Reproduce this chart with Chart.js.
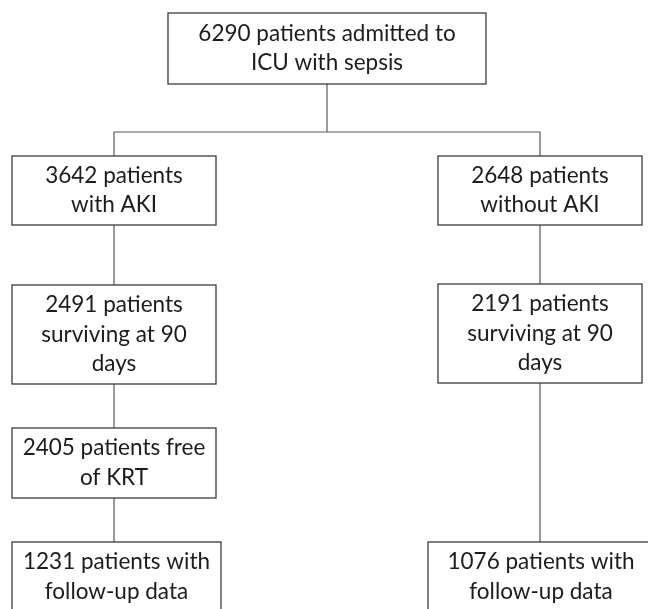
<!DOCTYPE html>
<html lang="en">
<head>
    <meta charset="UTF-8">
    <title>Sepsis AKI cohort flow</title>
    <style>
        * { margin: 0; padding: 0; box-sizing: border-box; }
        body { background: #fff; width: 648px; height: 609px; overflow: hidden; }
        canvas { display: block; }
    </style>
</head>
<body>
<canvas id="flow" width="648" height="609"></canvas>

<script src="https://cdn.jsdelivr.net/npm/chart.js@4.4.0/dist/chart.umd.min.js"></script>
<script>
// --- data: patient counts and box captions ---
const counts = [6290, 3642, 2648, 2491, 2191, 2405, 1231, 1076];
const captions = [
    ['patients admitted to', 'ICU with sepsis'],
    ['patients', 'with AKI'],
    ['patients', 'without AKI'],
    ['patients', 'surviving at 90', 'days'],
    ['patients', 'surviving at 90', 'days'],
    ['patients free', 'of KRT'],
    ['patients with', 'follow-up data'],
    ['patients with', 'follow-up data']
];
// parent -> child links
const links = [[0, 1], [0, 2], [1, 3], [2, 4], [3, 5], [5, 6], [4, 7]];

// --- layout (chart units, y grows downward) ---
const boxLeft   = [168, 12, 438, 12, 438, 12, 12, 428];
const boxRight  = [486, 216, 642, 216, 642, 216, 221, 654];
const boxTop    = [13, 156, 156, 285, 284, 428, 542, 542];
const boxBottom = [84, 225, 225, 384, 383, 498, 612, 612];
const branchY = 132;

function lines(i) {
    const l = captions[i].slice();
    l[0] = counts[i] + ' ' + l[0];
    return l;
}

const flowPlugin = {
    id: 'flow',
    afterDatasetsDraw(chart) {
        const ctx = chart.ctx;
        const xs = chart.scales.x, ys = chart.scales.y;
        const px = v => xs.getPixelForValue(v);
        const py = v => ys.getPixelForValue(v);
        const cx = i => (boxLeft[i] + boxRight[i]) / 2;

        ctx.save();
        // connectors
        ctx.strokeStyle = '#5a5a5a';
        ctx.lineWidth = 1.2;
        ctx.beginPath();
        links.forEach(([a, b]) => {
            if (a === 0) {
                ctx.moveTo(px(cx(a)), py(boxBottom[a]));
                ctx.lineTo(px(cx(a)), py(branchY));
                ctx.moveTo(px(cx(a)), py(branchY));
                ctx.lineTo(px(cx(b)), py(branchY));
                ctx.lineTo(px(cx(b)), py(boxTop[b]));
            } else {
                ctx.moveTo(px(cx(a)), py(boxBottom[a]));
                ctx.lineTo(px(cx(a)), py(boxTop[b]));
            }
        });
        ctx.stroke();

        // boxes
        counts.forEach((c, i) => {
            const x0 = px(boxLeft[i]), x1 = px(boxRight[i]);
            const y0 = py(boxTop[i]), y1 = py(boxBottom[i]);
            ctx.fillStyle = '#fff';
            ctx.fillRect(x0, y0, x1 - x0, y1 - y0);
            ctx.strokeStyle = '#3c3c3c';
            ctx.lineWidth = 1.3;
            ctx.strokeRect(x0, y0, x1 - x0, y1 - y0);

            const txt = lines(i);
            const mid = (y0 + y1) / 2;
            ctx.fillStyle = '#1e1b1c';
            ctx.font = '22.5px Lato, "Open Sans", sans-serif';
            ctx.textAlign = 'center';
            ctx.textBaseline = 'alphabetic';
            txt.forEach((t, k) => {
                ctx.fillText(t, px(cx(i)), mid + (k - (txt.length - 1) / 2) * 29.5 + 7);
            });
        });
        ctx.restore();
    }
};

new Chart(document.getElementById('flow'), {
    type: 'scatter',
    data: {
        datasets: [{
            data: counts.map((c, i) => ({ x: (boxLeft[i] + boxRight[i]) / 2, y: (boxTop[i] + boxBottom[i]) / 2 })),
            pointRadius: 0
        }]
    },
    options: {
        responsive: false,
        animation: false,
        layout: { padding: 0 },
        plugins: { legend: { display: false }, tooltip: { enabled: false } },
        scales: {
            x: { type: 'linear', min: 0, max: 648, display: false },
            y: { type: 'linear', min: 0, max: 609, reverse: true, display: false }
        }
    },
    plugins: [flowPlugin]
});
</script>
</body>
</html>
